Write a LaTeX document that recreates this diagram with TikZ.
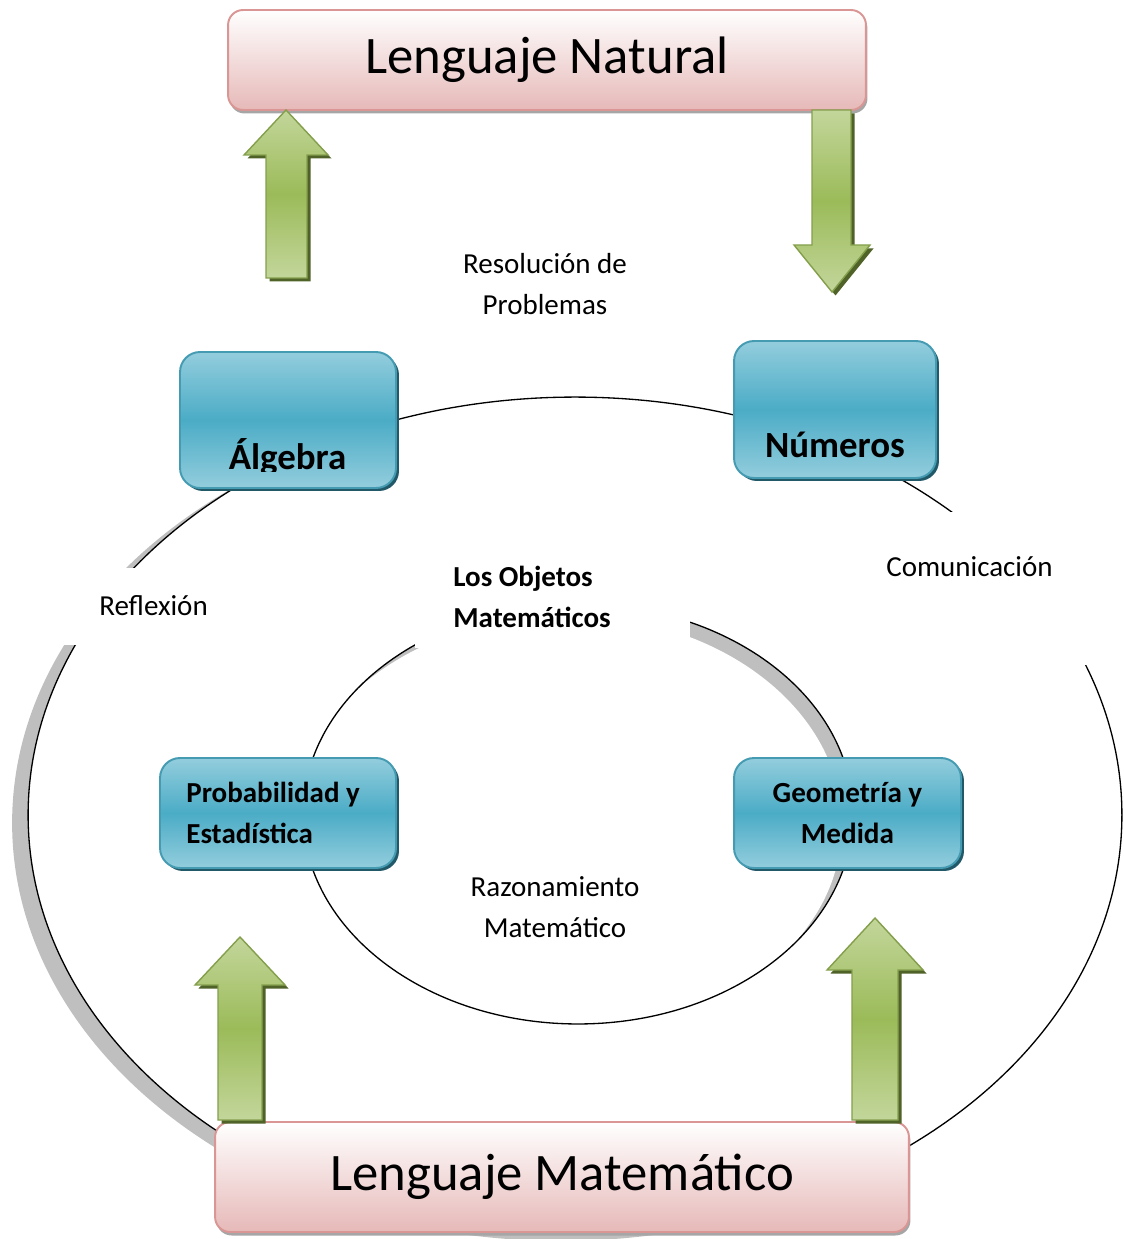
\documentclass[tikz,border=0pt]{standalone}
\usepackage{fontspec}
\setmainfont{Carlito}
\usetikzlibrary{shadows,positioning}

\definecolor{tealmid}{HTML}{4BACC6}
\definecolor{teallight}{HTML}{93CDDD}
\definecolor{tealdark}{HTML}{215968}
\definecolor{pinkline}{HTML}{D99694}
\definecolor{pinkfill}{HTML}{E6B9B8}
\definecolor{greenmid}{HTML}{9BBB59}
\definecolor{greenlight}{HTML}{C3D69B}
\definecolor{greendark}{HTML}{4F6228}
\definecolor{ringgray}{HTML}{BFBFBF}

\begin{document}
\begin{tikzpicture}[x=0.02cm,y=-0.02cm,
		topic box/.style={rectangle,rounded corners=0.4cm,draw=tealmid!90!black,line width=1.1pt,
			top color=teallight,bottom color=teallight,middle color=tealmid,
			drop shadow={shadow xshift=0.06cm,shadow yshift=-0.06cm,fill=tealdark,opacity=1},
			font=\bfseries\fontsize{16.6}{23.8}\selectfont},
		big word/.style={font=\bfseries\fontsize{21}{25}\selectfont,anchor=base},
		lang box/.style={rectangle,rounded corners=0.3cm,draw=pinkline,line width=1.1pt,
			top color=white,bottom color=pinkfill,
			drop shadow={shadow xshift=0.03cm,shadow yshift=-0.07cm,fill=black!35,opacity=1},
			font=\fontsize{30}{36}\selectfont},
		big arrow/.style={draw=greenmid!85!black,line width=0.8pt,
			top color=greenlight,bottom color=greenlight,middle color=greenmid,
			drop shadow={shadow xshift=0.07cm,shadow yshift=-0.07cm,fill=greendark,opacity=1}},
		word/.style={font=\fontsize{16.5}{23.2}\selectfont,inner sep=0pt},
		word bold/.style={font=\bfseries\fontsize{16.5}{23.2}\selectfont,inner sep=0pt},
		cover/.style={fill=white}]

		\useasboundingbox (0,0) rectangle (1123,1239);

		\fill[ringgray] (561,823) ellipse [x radius=10.98cm,y radius=8.36cm];
		\fill[white] (575,815) ellipse [x radius=10.94cm,y radius=8.36cm];
		\draw[line width=0.75pt] (575,815) ellipse [x radius=10.94cm,y radius=8.36cm];

		\fill[ringgray] (578,814) ellipse [x radius=5.5cm,y radius=4.2cm];
		\fill[white] (567,825) ellipse [x radius=5.5cm,y radius=4.2cm];
		\draw[line width=0.75pt] (578,814) ellipse [x radius=5.5cm,y radius=4.2cm];

		\fill[cover] (40,568) rectangle (250,645);
		\fill[cover] (870,512) rectangle (1123,665);
		\fill[cover] (415,545) rectangle (690,648);

		\node[word,align=center] (resol) at (545,284) {Resolución de\\Problemas};
		\node[word bold,align=left,anchor=west] (objetos) at (453,597) {Los Objetos\\Matemáticos};
		\node[word] (reflex) at (153.5,606) {Reflexión};
		\node[word] (comun) at (969.5,567) {Comunicación};
		\node[word,align=center] (razon) at (555,907.5) {Razonamiento\\Matemático};

		\node[lang box,minimum width=12.76cm,minimum height=2cm] (natural) at (547,60) {Lenguaje Natural};
		\node[lang box,minimum width=13.88cm,minimum height=2.2cm] (matem) at (562,1177) {Lenguaje Matemático};

		\node[topic box,minimum width=4.32cm,minimum height=2.72cm] (algebra) at (288,420) {};
		\begin{scope}
			\clip (182,354) rectangle (394,471);
			\node[big word] (algtxt) at (287.5,469) {Álgebra};
		\end{scope}
		\node[topic box,minimum width=4.04cm,minimum height=2.74cm] (numeros) at (835,409.5) {};
		\node[big word] (numtxt) at (835,458) {Números};
		\node[topic box,minimum width=4.72cm,minimum height=2.2cm] (prob) at (278,813) {};
		\node[word bold,align=left,anchor=west] (probtxt) at (186,813) {Probabilidad y\\Estadística};
		\node[topic box,minimum width=4.54cm,minimum height=2.2cm,align=center] (geom) at (847.5,813) {Geometría y\\Medida};

		\path[big arrow] (266,278) -- (266,155) -- (244,155) -- (286,110) -- (328,155) -- (307,155) -- (307,278) -- cycle;
		\path[big arrow] (812,110) -- (812,245) -- (794,245) -- (832,292) -- (870,245) -- (851,245) -- (851,110) -- cycle;
		\path[big arrow] (218,1120) -- (218,985) -- (195,985) -- (240,937) -- (285,985) -- (262,985) -- (262,1120) -- cycle;
		\path[big arrow] (852,1120) -- (852,970) -- (827,970) -- (875,918) -- (923,970) -- (898,970) -- (898,1120) -- cycle;
\end{tikzpicture}
\end{document}
